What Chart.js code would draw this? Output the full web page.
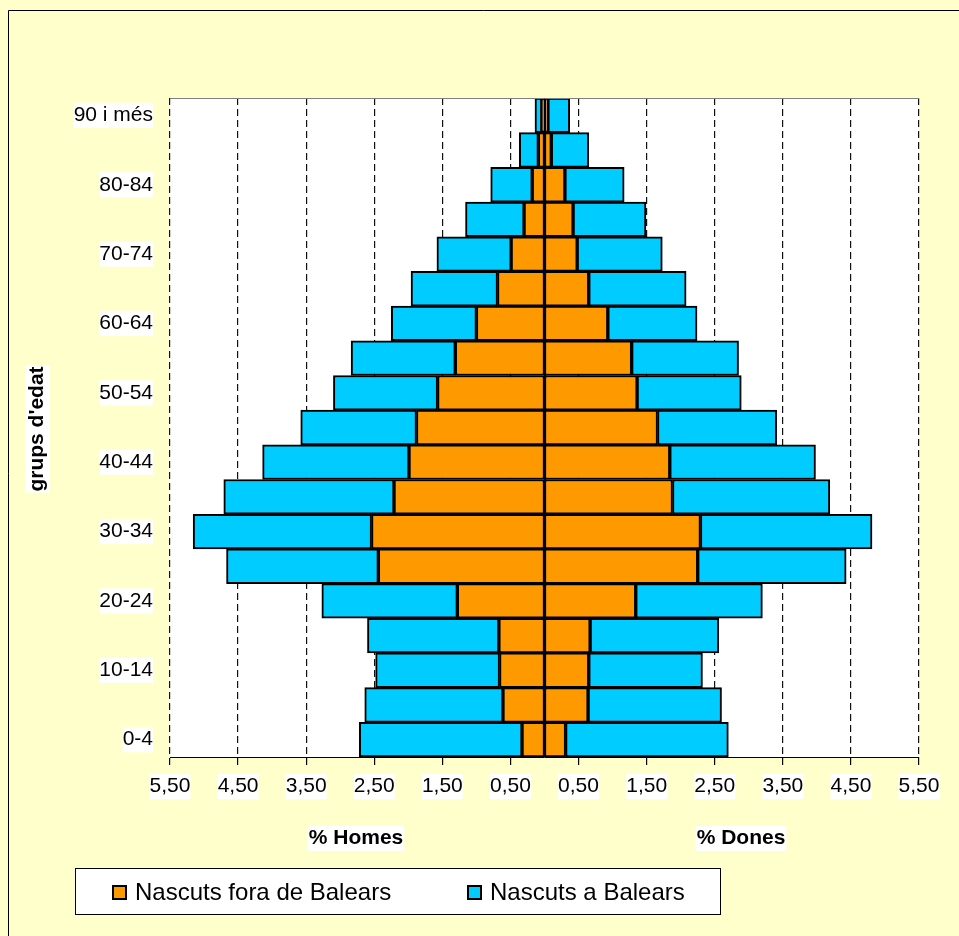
<!DOCTYPE html>
<html>
<head>
<meta charset="utf-8">
<script src="https://cdn.jsdelivr.net/npm/chart.js@4.4.1/dist/chart.umd.min.js"></script>
<style>
html, body { margin: 0; padding: 0; background: #ffffcc; }
canvas { display: block; }
</style>
</head>
<body>
<canvas id="piramide" width="959" height="936"></canvas>
<script>
// Grups d'edat (de baix a dalt)
const grupsEdat = ['0-4', '5-9', '10-14', '15-19', '20-24', '25-29', '30-34', '35-39', '40-44',
    '45-49', '50-54', '55-59', '60-64', '65-69', '70-74', '75-79', '80-84', '85-89', '90 i més'];

// Homes (%), es dibuixen cap a l'esquerra
const homesFora = [0.33, 0.61, 0.66, 0.67, 1.28, 2.44, 2.54, 2.21, 1.99, 1.88, 1.57, 1.31, 1.00, 0.69, 0.49, 0.30, 0.18, 0.09, 0.04];
const homesBalears = [2.39, 2.03, 1.82, 1.93, 1.99, 2.23, 2.62, 2.50, 2.15, 1.70, 1.53, 1.53, 1.25, 1.27, 1.09, 0.86, 0.61, 0.28, 0.10];

// Dones (%)
const donesFora = [0.31, 0.64, 0.65, 0.67, 1.34, 2.25, 2.29, 1.88, 1.84, 1.66, 1.36, 1.28, 0.93, 0.65, 0.48, 0.42, 0.30, 0.10, 0.05];
const donesBalears = [2.39, 1.96, 1.67, 1.89, 1.86, 2.18, 2.52, 2.31, 2.14, 1.75, 1.53, 1.57, 1.31, 1.43, 1.25, 1.07, 0.87, 0.55, 0.32];

const llegenda = ['Nascuts fora de Balears', 'Nascuts a Balears'];
const colorFora = '#ff9900';
const colorBalears = '#00ccff';
const FONT = "'Liberation Sans', Arial, sans-serif";

// Fons, àrea del gràfic, títols i llegenda
const decoracio = {
    id: 'decoracio',
    beforeDraw(chart) {
        const { ctx, chartArea: a, width, height } = chart;
        ctx.save();
        ctx.fillStyle = '#ffffcc';
        ctx.fillRect(0, 0, width, height);
        ctx.strokeStyle = '#000';
        ctx.lineWidth = 1;
        ctx.beginPath();
        ctx.moveTo(8.5, height);
        ctx.lineTo(8.5, 10.5);
        ctx.lineTo(width, 10.5);
        ctx.stroke();
        ctx.fillStyle = '#fff';
        ctx.fillRect(a.left, a.top, a.right - a.left, a.bottom - a.top);
        ctx.restore();
    },
    afterDatasetsDraw(chart) {
        const { ctx, chartArea: a, scales } = chart;
        const x0 = Math.round(scales.x.getPixelForValue(0));
        ctx.save();
        ctx.strokeStyle = '#000';
        ctx.lineWidth = 2;
        ctx.beginPath();
        ctx.moveTo(x0, a.top);
        ctx.lineTo(x0, a.bottom);
        ctx.stroke();
        ctx.strokeStyle = '#808080';
        ctx.lineWidth = 1;
        ctx.beginPath();
        ctx.moveTo(a.left, a.top + 0.5);
        ctx.lineTo(a.right, a.top + 0.5);
        ctx.stroke();
        ctx.restore();
    },
    afterDraw(chart) {
        const { ctx } = chart;
        ctx.save();
        ctx.textBaseline = 'middle';
        ctx.textAlign = 'center';
        ctx.font = 'bold 21px ' + FONT;

        function textAmbFons(text, x, y) {
            const w = ctx.measureText(text).width;
            ctx.fillStyle = '#fff';
            ctx.fillRect(x - w / 2 - 1, y - 12, w + 2, 25);
            ctx.fillStyle = '#000';
            ctx.fillText(text, x, y);
        }
        textAmbFons('% Homes', 356, 838);
        textAmbFons('% Dones', 741, 838);

        ctx.save();
        ctx.translate(37, 429);
        ctx.rotate(-Math.PI / 2);
        textAmbFons("grups d'edat", 0, 0);
        ctx.restore();

        // llegenda
        ctx.fillStyle = '#fff';
        ctx.fillRect(75, 868, 645, 46);
        ctx.strokeStyle = '#000';
        ctx.lineWidth = 1;
        ctx.strokeRect(75.5, 868.5, 645, 46);
        const posicions = [113, 468];
        const colors = [colorFora, colorBalears];
        ctx.font = '24px ' + FONT;
        ctx.textAlign = 'left';
        llegenda.forEach((text, i) => {
            const x = posicions[i];
            ctx.fillStyle = colors[i];
            ctx.fillRect(x, 886, 13, 13);
            ctx.lineWidth = 2;
            ctx.strokeStyle = '#000';
            ctx.strokeRect(x, 886, 13, 13);
            ctx.fillStyle = '#000';
            ctx.fillText(text, x + 22, 893);
        });
        ctx.restore();
    }
};

function serie(valors, color, signe) {
    return {
        data: valors.map(v => signe * v),
        backgroundColor: color,
        borderColor: '#000',
        borderWidth: 2,
        borderSkipped: false,
        barPercentage: 1,
        categoryPercentage: 1,
        stack: 'piramide'
    };
}

new Chart(document.getElementById('piramide').getContext('2d'), {
    type: 'bar',
    data: {
        labels: grupsEdat,
        datasets: [
            serie(homesFora, colorFora, -1),
            serie(homesBalears, colorBalears, -1),
            serie(donesFora, colorFora, 1),
            serie(donesBalears, colorBalears, 1)
        ]
    },
    options: {
        indexAxis: 'y',
        responsive: false,
        animation: false,
        layout: { padding: { top: 98, right: 40, left: 0, bottom: 0 } },
        plugins: {
            legend: { display: false },
            tooltip: { enabled: false }
        },
        scales: {
            x: {
                stacked: true,
                min: -5.5,
                max: 5.5,
                afterFit: s => { s.height = 179; },
                ticks: {
                    stepSize: 1,
                    autoSkip: false,
                    maxRotation: 0,
                    padding: 9,
                    color: '#000',
                    font: { family: FONT, size: 21 },
                    showLabelBackdrop: true,
                    backdropColor: '#fff',
                    backdropPadding: 0,
                    callback: v => Math.abs(v).toFixed(2).replace('.', ',')
                },
                grid: {
                    color: '#111',
                    lineWidth: 1.2,
                    tickColor: '#000',
                    tickLength: 8,
                    tickBorderDash: []
                },
                border: { display: true, color: '#000', width: 1, dash: [7, 4] }
            },
            y: {
                stacked: true,
                reverse: true,
                afterFit: s => { s.width = 170; },
                grid: { display: false, drawTicks: false },
                border: { display: false },
                ticks: {
                    autoSkip: false,
                    padding: 17,
                    color: '#000',
                    font: { family: FONT, size: 21 },
                    showLabelBackdrop: true,
                    backdropColor: '#fff',
                    backdropPadding: 0,
                    callback: function (v, i) {
                        return i % 2 === 0 ? this.getLabelForValue(v) : '';
                    }
                }
            }
        }
    },
    plugins: [decoracio]
});
</script>
</body>
</html>
